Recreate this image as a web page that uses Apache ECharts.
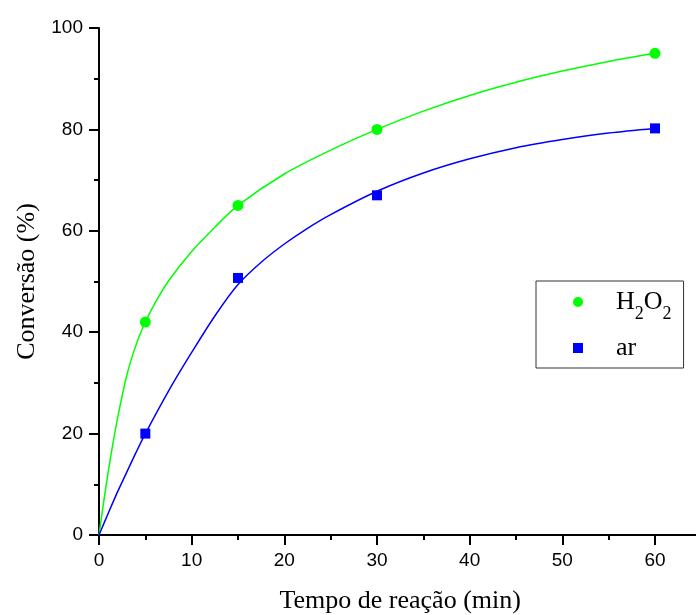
<!DOCTYPE html>
<html>
<head>
<meta charset="utf-8">
<script src="https://cdn.jsdelivr.net/npm/echarts@6/dist/echarts.min.js"></script>
<style>
html,body{margin:0;padding:0;background:#fff;}
#chart{width:696px;height:615px;}
</style>
</head>
<body>
<div id="chart"></div>
<script>
// Measured points
var h2o2Time = [5, 15, 30, 60];
var h2o2Conv = [42, 65, 80, 95];
var arTime = [5, 15, 30, 60];
var arConv = [20, 50.7, 67, 80.2];

// Fitted curves
var h2o2FitTime = [0, 0.5, 1, 1.5, 2, 3, 4, 5, 6, 7.5, 10, 12.5, 15, 20, 25, 30, 35, 40, 45, 50, 55, 60];
var h2o2FitConv = [0, 6.5, 12.5, 18, 23, 31.5, 37.5, 42, 45.6, 50.1, 55.9, 60.7, 65, 71.2, 75.9, 80, 83.6, 86.7, 89.3, 91.5, 93.4, 95];
var arFitTime = [0, 1, 2, 3, 4, 5, 7.5, 10, 12.5, 15, 17.5, 20, 22.5, 25, 30, 35, 40, 45, 50, 55, 60];
var arFitConv = [0, 4.3, 8.5, 12.4, 16.3, 20, 28.4, 36.0, 43.2, 49.4, 53.8, 57.4, 60.5, 63.2, 67.8, 71.4, 74.2, 76.4, 78.0, 79.3, 80.2];

// Axis ticks
var xMin = 0, xMax = 65, xMajor = 10, xMinor = 5;
var yMin = 0, yMax = 100, yMajor = 20;

var seriesNames = ['H2O2', 'ar'];

function pairs(xs, ys) { return xs.map(function (x, i) { return [x, ys[i]]; }); }

var chart = echarts.init(document.getElementById('chart'), null, {renderer: 'canvas'});
var sans = 'Liberation Sans, Arial, sans-serif';
var serif = 'Liberation Serif, Times New Roman, serif';
var green = '#00ff00', blue = '#0000ff';

chart.setOption({
  animation: false,
  backgroundColor: '#ffffff',
  grid: {left: 99, top: 28, bottom: 80, right: -5.33, containLabel: false, outerBoundsMode: 'none'},
  legend: {
    data: [{name: 'H2O2', icon: 'circle'}, {name: 'ar', icon: 'rect'}],
    orient: 'vertical',
    left: 536, top: 281,
    padding: [8, 12, 7, 37],
    itemWidth: 10, itemHeight: 10, itemGap: 12,
    borderColor: '#333', borderWidth: 1,
    selectedMode: false,
    formatter: function (name) {
      return name === 'H2O2' ? '{g|}{n|H}{s|2}{n|O}{s|2}' : '{g|}{n|ar}';
    },
    textStyle: {
      color: '#000',
      rich: {
        g: {width: 28, lineHeight: 30},
        n: {fontFamily: serif, fontSize: 26, lineHeight: 30, color: '#000'},
        s: {fontFamily: serif, fontSize: 18, lineHeight: 30, verticalAlign: 'bottom', padding: [0, 0, -6, 0], color: '#000'}
      }
    }
  },
  xAxis: [{
    type: 'value', min: xMin, max: xMax, interval: xMajor,
    name: 'Tempo de reação (min)', nameLocation: 'middle', nameGap: 53,
    nameTextStyle: {fontFamily: serif, fontSize: 26, color: '#000'},
    axisLine: {show: true, lineStyle: {color: '#000', width: 2}},
    axisTick: {show: true, inside: false, length: 10, lineStyle: {color: '#000', width: 2}},
    axisLabel: {margin: 16, fontFamily: sans, fontSize: 19, color: '#000',
      formatter: function (v) { return v % xMajor === 0 ? String(v) : ''; }},
    splitLine: {show: false}
  }, {
    type: 'value', min: xMin, max: xMax, interval: xMinor, position: 'bottom',
    axisLine: {show: false},
    axisTick: {show: true, inside: false, length: 5, lineStyle: {color: '#000', width: 2}},
    axisLabel: {show: false},
    splitLine: {show: false}
  }],
  yAxis: {
    type: 'value', min: yMin, max: yMax, interval: yMajor,
    name: 'Conversão (%)', nameLocation: 'middle', nameGap: 58,
    nameTextStyle: {fontFamily: serif, fontSize: 26, color: '#000'},
    axisLine: {show: true, lineStyle: {color: '#000', width: 2}},
    axisTick: {show: true, inside: false, length: 10, lineStyle: {color: '#000', width: 2}},
    minorTick: {show: true, splitNumber: 2, length: 5, lineStyle: {color: '#000', width: 2}},
    axisLabel: {margin: 16, fontFamily: sans, fontSize: 19, color: '#000'},
    splitLine: {show: false}
  },
  series: [
    {name: 'H2O2 fit', type: 'line', xAxisIndex: 0, data: pairs(h2o2FitTime, h2o2FitConv),
     showSymbol: false, smooth: 0.3, lineStyle: {color: green, width: 1.5}, itemStyle: {color: green}, z: 2, silent: true},
    {name: 'ar fit', type: 'line', xAxisIndex: 0, data: pairs(arFitTime, arFitConv),
     showSymbol: false, smooth: 0.3, lineStyle: {color: blue, width: 1.5}, itemStyle: {color: blue}, z: 2, silent: true},
    {name: seriesNames[0], type: 'scatter', xAxisIndex: 0, data: pairs(h2o2Time, h2o2Conv),
     symbol: 'circle', symbolSize: 11, itemStyle: {color: green, opacity: 1}, z: 3},
    {name: seriesNames[1], type: 'scatter', xAxisIndex: 0, data: pairs(arTime, arConv),
     symbol: 'rect', symbolSize: 10, itemStyle: {color: blue, opacity: 1}, z: 3}
  ]
});
</script>
</body>
</html>
